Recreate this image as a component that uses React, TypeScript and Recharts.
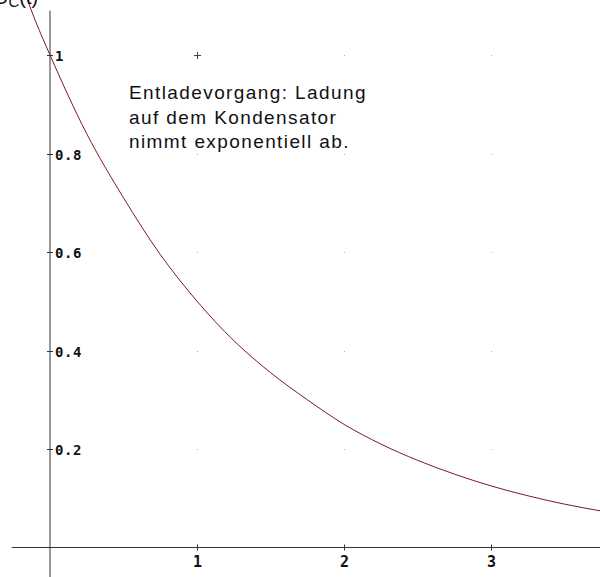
import { ComposedChart, Line, Scatter, XAxis, YAxis, ReferenceLine } from 'recharts';

// charge on capacitor (t in units, Q/Q0)
const times = [-0.2, -0.1, 0, 0.25, 0.5, 0.75, 1, 1.25, 1.5, 1.75, 2, 2.25, 2.5, 2.75, 3, 3.25, 3.5, 3.75];
const charge = [1.15, 1.07, 1.0, 0.84, 0.71, 0.595, 0.5, 0.42, 0.355, 0.3, 0.25, 0.21, 0.177, 0.149, 0.125, 0.105, 0.088, 0.074];

const xTicks = [1, 2, 3];
const yTicks = [0.2, 0.4, 0.6, 0.8, 1];

const curve = times.map((t, i) => ({ t, q: charge[i] }));
const gridDots = xTicks.flatMap((x) => yTicks.map((y) => ({ t: x, q: y }))).filter((d) => !(d.t === 1 && d.q === 1));
const gridPlus = [{ t: 1, q: 1 }];
const xTickData = xTicks.map((x) => ({ t: x, q: 0, label: String(x) }));
const yTickData = yTicks.map((y) => ({ t: 0, q: y, label: String(y) }));

const tickFont = '"DejaVu Sans Mono", monospace';

const Dot = (props: any) => <rect x={Math.round(props.cx)} y={Math.round(props.cy)} width={1} height={1} fill="#b0b0b0" />;

const Plus = (props: any) => (
  <g stroke="#444" strokeWidth={1}>
    <line x1={props.cx - 3} x2={props.cx + 4} y1={Math.round(props.cy) + 0.5} y2={Math.round(props.cy) + 0.5} />
    <line x1={Math.round(props.cx) + 0.5} x2={Math.round(props.cx) + 0.5} y1={props.cy - 3} y2={props.cy + 4} />
  </g>
);

const XTick = (props: any) => {
  const x = Math.round(props.cx) + 0.5;
  return (
    <g>
      <line x1={x} x2={x} y1={props.cy - 3} y2={props.cy + 3} stroke="#333" />
      <text x={x} y={props.cy + 20} textAnchor="middle" fontFamily={tickFont} fontWeight="bold" fontSize={15} fill="#111">
        {props.payload.label}
      </text>
    </g>
  );
};

const YTick = (props: any) => {
  const y = Math.round(props.cy) + 0.5;
  return (
    <g>
      <line x1={props.cx - 3} x2={props.cx + 3} y1={y} y2={y} stroke="#333" />
      <text x={props.cx + 5} y={y + 5} fontFamily={tickFont} fontWeight="bold" fontSize={14} letterSpacing={0.6} fill="#111">
        {props.payload.label}
      </text>
    </g>
  );
};

export default function App() {
  return (
    <div style={{ position: 'absolute', top: 0, left: 0, width: 600, height: 577, background: '#fff' }}>
      <ComposedChart width={600} height={577} margin={{ top: 0, right: 0, left: 0, bottom: 0 }}>
        <XAxis type="number" dataKey="t" domain={[-0.34, 3.74]} allowDataOverflow hide />
        <YAxis type="number" dataKey="q" domain={[-0.0599, 1.1117]} allowDataOverflow hide />
        <ReferenceLine segment={[{ x: -0.26, y: 0 }, { x: 3.74, y: 0 }]} stroke="#333" ifOverflow="visible" />
        <ReferenceLine segment={[{ x: 0, y: 1.09 }, { x: 0, y: -0.0599 }]} stroke="#333" ifOverflow="visible" />
        <Scatter data={gridDots} shape={Dot} isAnimationActive={false} />
        <Scatter data={gridPlus} shape={Plus} isAnimationActive={false} />
        <Scatter data={xTickData} shape={XTick} isAnimationActive={false} />
        <Scatter data={yTickData} shape={YTick} isAnimationActive={false} />
        <Line data={curve} dataKey="q" type="monotone" stroke="#7a1a2a" strokeWidth={1} dot={false} isAnimationActive={false} />
      </ComposedChart>
      <svg width={600} height={577} style={{ position: 'absolute', top: 0, left: 0, pointerEvents: 'none' }}>
        <text x={-6} y={4} fontFamily='"Liberation Sans", Arial, sans-serif' fontSize={20} fill="#111">
          U<tspan fontSize={15} dy={3}>C</tspan><tspan dy={-3}>(t)</tspan>
        </text>
        <g fontFamily='"Liberation Sans", Arial, sans-serif' fontSize={19} letterSpacing={1.4} fill="#111">
          <text x={129} y={99}>Entladevorgang: Ladung</text>
          <text x={129} y={124}>auf dem Kondensator</text>
          <text x={129} y={148}>nimmt exponentiell ab.</text>
        </g>
      </svg>
    </div>
  );
}
